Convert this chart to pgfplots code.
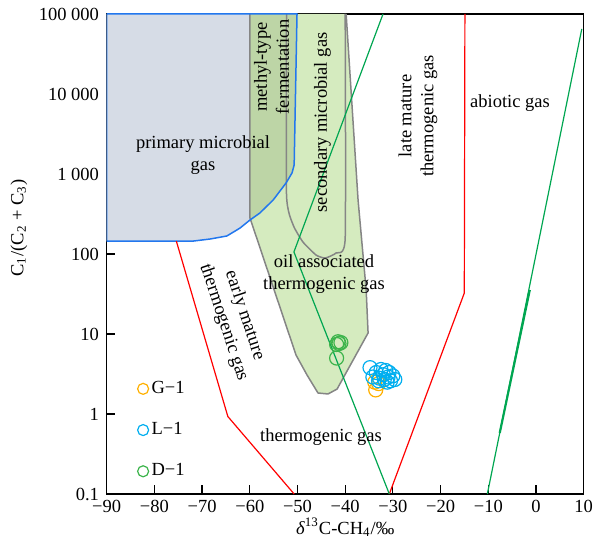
\documentclass[border=0pt]{standalone}
\usepackage{fontspec}
\setmainfont{Liberation Serif}
\usepackage{pgfplots}
\pgfplotsset{compat=1.18}
\pgfplotsset{legend image code/.code={\draw[#1, mark size=2.75pt] plot coordinates {(0pt,0pt)};}}
\definecolor{primfill}{HTML}{D6DCE6}
\definecolor{primline}{HTML}{2277EE}
\definecolor{oilfill}{HTML}{D5EBBF}
\definecolor{methfill}{HTML}{BDD5A6}
\definecolor{outl}{HTML}{858585}
\definecolor{gline}{HTML}{00A651}
\definecolor{rline}{HTML}{FF0000}
\definecolor{gorange}{HTML}{FFB000}
\definecolor{lblue}{HTML}{00AEEF}
\definecolor{dgreen}{HTML}{3CB44B}
\begin{document}
\begin{tikzpicture}[font=\fontsize{9.25}{11}\selectfont]
\path[use as bounding box] (-53.35pt,-26pt) rectangle (246.65pt,247pt);
\begin{axis}[
  scale only axis, width=238.5pt, height=240pt,
  xmin=-90, xmax=10, ymode=log, ymin=0.1, ymax=100000,
  xtick={-90,-80,...,10},
  xticklabels={−90,−80,−70,−60,−50,−40,−30,−20,−10,0,10},
  ytick={0.1,1,10,100,1000,10000,100000},
  yticklabels={0.1,1,10,100,1 000,10 000,100 000},
  yminorticks=false,
  tick align=inside, xtick pos=bottom, ytick pos=left,
  axis line style={line width=0.75pt},
  tick style={black, line width=0.6pt},
  yticklabel style={inner sep=0pt, xshift=-3.7pt},
  xticklabel style={inner sep=0pt, yshift=-3pt},
  xlabel={\textit{δ}\textsuperscript{13}C-CH\textsubscript{4}/‰},
  ylabel={C\textsubscript{1}/(C\textsubscript{2} + C\textsubscript{3})},
  every axis x label/.style={at={(axis description cs:0.5,-0.069)}, anchor=center},
  every axis y label/.style={at={(axis description cs:-0.184,0.554)}, anchor=center, rotate=90},
  legend style={draw=none, fill=none, at={(axis cs:-83.6,0.63)}, anchor=west, inner sep=0pt,
    row sep=10pt, nodes={inner sep=1.5pt}},
  legend cell align=left,
]
% primary microbial gas fill
\addplot[forget plot, draw=none, fill=primfill] coordinates {
 (-90,100000) (-90,145) (-71.9,145) (-68.3,154) (-64.8,168) (-62.05,211) (-59.96,266)
 (-57.9,325) (-55.1,473) (-52.4,772) (-51.15,1029) (-50.7,1296) (-50.1,100000) (-90,100000)};
% oil associated outer region fill
\addplot[forget plot, draw=none, fill=oilfill] coordinates {
 (-60,100000) (-60,330) (-59.96,282) (-50.31,5.46) (-48.0,3.07) (-45.7,1.83) (-43.6,1.78)
 (-41.7,2.05) (-35.2,10.3) (-35.6,35.5) (-37.3,473) (-39.8,100000) (-60,100000)};
% methyl-type overlap
\addplot[forget plot, draw=none, fill=methfill] coordinates {
 (-60,100000) (-60,266) (-57.9,325) (-55.1,473) (-52.4,772) (-51.15,1029) (-50.7,1296)
 (-50.1,100000) (-60,100000)};
% outlines
\addplot[forget plot, outl, line width=0.75pt, line join=round] coordinates {
 (-60,100000) (-60,330) (-59.96,282) (-50.31,5.46) (-48.0,3.07) (-45.7,1.83) (-43.6,1.78)
 (-41.7,2.05) (-35.2,10.3) (-35.6,35.5) (-37.3,473) (-39.8,100000)};
\addplot[forget plot, outl, line width=0.75pt, line join=round, smooth, tension=0.3] coordinates {
 (-52.3,100000) (-52.3,546) (-50.9,230) (-48.85,141) (-46.1,97) (-44.2,89) (-41.9,103)
 (-40.0,158) (-40.0,100000)};
\addplot[forget plot, primline, line width=0.75pt, line join=round] coordinates {
 (-90,100000) (-90,145) (-71.9,145) (-68.3,154) (-64.8,168) (-62.05,211) (-59.96,266)
 (-57.9,325) (-55.1,473) (-52.4,772) (-51.15,1029) (-50.7,1296) (-50.1,100000) (-90,100000)};
% red lines
\addplot[forget plot, rline, line width=0.6pt] coordinates {(-75.4,145) (-64.6,0.93) (-50.7,0.1)};
\addplot[forget plot, rline, line width=0.6pt] coordinates {(-30.75,0.1) (-15.03,32.5) (-14.9,100000)};
% green lines
\addplot[forget plot, gline, line width=0.6pt] coordinates {(-32.07,100000) (-50.75,106) (-30.75,0.1)};
\addplot[forget plot, gline, line width=0.6pt] coordinates {(-10.2,0.1) (9.6,65000)};
\addplot[forget plot, gline, line width=1.1pt] coordinates {(-7.6,0.58) (-1.3,35.5)};
% labels
\node[align=center] at (axis cs:-69.8,1728) {primary microbial\\gas};
\node[align=center, rotate=90] at (axis cs:-55.45,21750) {methyl-type\\fermentation};
\node[rotate=90] at (axis cs:-44.76,4406) {secondary microbial gas};
\node[align=center, rotate=90] at (axis cs:-24.74,5309) {late mature\\thermogenic gas};
\node at (axis cs:-5.45,7718) {abiotic gas};
\node[align=center] at (axis cs:-44.44,56.2) {oil associated\\thermogenic gas};
\node[align=center, rotate=-71.6] at (axis cs:-63.3,15.4) {early mature\\thermogenic gas};
\node at (axis cs:-45.07,0.516) {thermogenic gas};
% data
\addplot[only marks, mark=o, mark size=3.5pt, gorange, line width=0.6pt]
 coordinates {(-33.6,2.0) (-33.8,2.5) (-33.0,2.4)};
\addlegendentry{G−1}
\addplot[only marks, mark=o, mark size=3.5pt, lblue, line width=0.6pt]
 coordinates {(-34.8,3.8) (-34.2,2.9) (-33.5,3.3) (-33.0,2.6) (-32.5,3.6) (-32.0,3.1)
 (-31.8,2.7) (-31.5,3.5) (-31.0,2.9) (-30.8,3.3) (-30.5,2.6) (-30.0,3.0) (-29.6,2.7)
 (-32.8,2.8) (-31.2,2.5)};
\addlegendentry{L−1}
\addplot[only marks, mark=o, mark size=3.5pt, dgreen, line width=0.6pt]
 coordinates {(-41.5,8.0) (-40.9,7.8) (-41.8,7.4) (-41.3,7.6) (-41.8,5.0)};
\addlegendentry{D−1}
\end{axis}
\end{tikzpicture}
\end{document}
